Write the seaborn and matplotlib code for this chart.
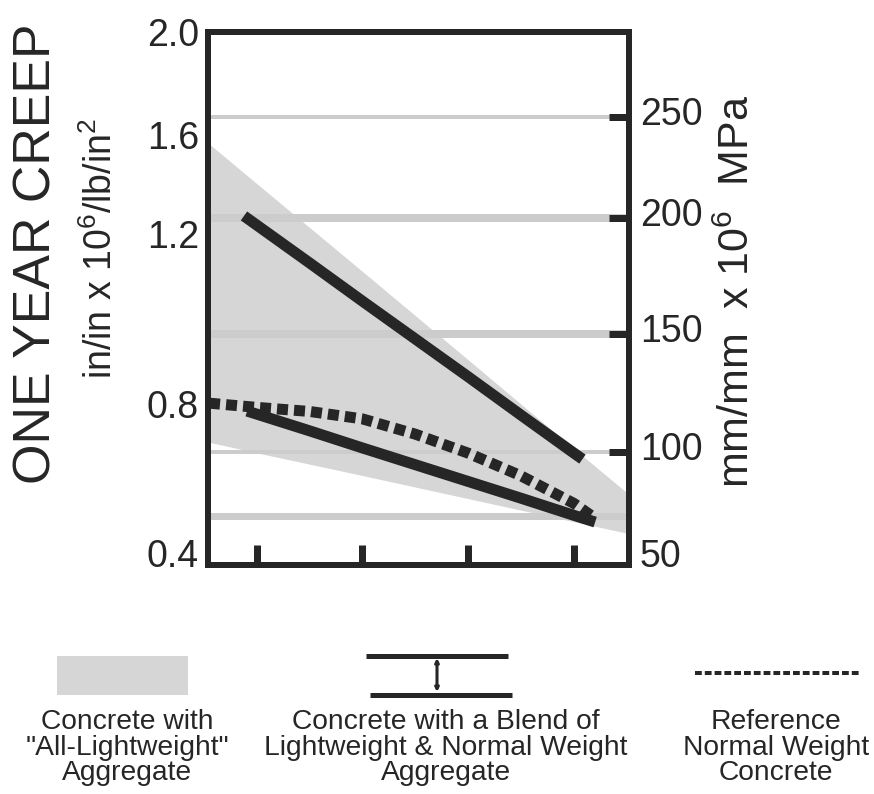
import numpy as np
import matplotlib
matplotlib.use("Agg")
import matplotlib.pyplot as plt
import matplotlib.transforms as mtransforms
from matplotlib import font_manager as fm
from matplotlib.patches import Rectangle
import seaborn as sns

# ---------------- data ----------------
x_ticks = [1, 2, 3, 4]                       # unlabelled bottom ticks
left_tick_vals = [0.4, 0.8, 1.2, 1.6, 2.0]
left_tick_labels = ["0.4", "0.8", "1.2", "1.6", "2.0"]
right_tick_vals = [100, 150, 200, 250]
right_tick_labels = ["100", "150", "200", "250"]
right_extra_val = [50]
right_extra_label = ["50"]

grid_right = [250, 200, 150, 100]            # gridlines in right-axis units
grid_left = [0.5]                            # gridline in left-axis units

band_x = [0.54, 1.0, 2.0, 3.0, 4.0, 4.52]
band_upper = [1.568, 1.404, 1.112, 0.904, 0.680, 0.557]
band_lower = [0.698, 0.669, 0.608, 0.546, 0.484, 0.452]

blend_upper_x = [0.88, 1.5, 2.0, 2.5, 3.0, 3.5, 4.0, 4.08]
blend_upper_y = [1.273, 1.132, 1.042, 0.953, 0.864, 0.770, 0.668, 0.652]
blend_lower_x = [0.91, 1.5, 2.0, 2.5, 3.0, 3.5, 4.0, 4.2]
blend_lower_y = [0.781, 0.728, 0.682, 0.637, 0.592, 0.547, 0.501, 0.483]
ref_x = [0.55, 1.0, 1.5, 2.0, 2.5, 3.0, 3.5, 4.0, 4.17]
ref_y = [0.802, 0.791, 0.780, 0.760, 0.719, 0.668, 0.607, 0.533, 0.499]

legend_labels = [
    ["Concrete with", "\"All-Lightweight\"", "Aggregate"],
    ["Concrete with a Blend of", "Lightweight & Normal Weight", "Aggregate"],
    ["Reference", "Normal Weight", "Concrete"],
]

# ---------------- layout (pixels of the 874x794 canvas) ----------------
W, H = 874, 794
AX_L, AX_R, AX_T, AX_B = 208, 629, 32, 565
LEFT_POS_PX = [553, 404, 234, 135, 32]        # where the left scale labels sit
RIGHT_POS_PX = [559, 452, 334, 218, 117]      # right scale 50..250
RIGHT_VALS_ALL = [50, 100, 150, 200, 250]
PX = 72 / 100                                 # points per pixel

INK = "#262626"
FILL = "#d6d6d6"
GRID = "#cccccc"

sns.set_theme(style="white")
names = {f.name for f in fm.fontManager.ttflist}
HAS_NARROW = "Liberation Sans Narrow" in names
BASE = "Liberation Sans"
NARROW = "Liberation Sans Narrow" if HAS_NARROW else BASE
TICK_SIZE = 32 if HAS_NARROW else 27
plt.rcParams["font.family"] = [BASE, "DejaVu Sans"]
plt.rcParams["mathtext.fontset"] = "custom"
plt.rcParams["mathtext.rm"] = BASE
plt.rcParams["mathtext.it"] = BASE + ":italic"
plt.rcParams["mathtext.bf"] = BASE + ":bold"
plt.rcParams["text.color"] = INK


def make_scale(vals, px):
    vals = np.asarray(vals, float)
    px = np.asarray(px, float)
    v_ext = np.r_[vals[0] - 10 * (vals[1] - vals[0]), vals, vals[-1] + 10 * (vals[-1] - vals[-2])]
    p_ext = np.r_[px[0] - 10 * (px[1] - px[0]), px, px[-1] + 10 * (px[-1] - px[-2])]

    def fwd(v):
        return -np.interp(v, v_ext, p_ext)

    def inv(u):
        return np.interp(-np.asarray(u, float), p_ext[::-1], v_ext[::-1])

    return fwd, inv


lf, li = make_scale(left_tick_vals, LEFT_POS_PX)
rf, ri = make_scale(RIGHT_VALS_ALL, RIGHT_POS_PX)

fig = plt.figure(figsize=(W / 100, H / 100), dpi=100)
fig.patch.set_facecolor("white")

# overlay for the hand-drawn legend below the plot
lax = fig.add_axes([0, 0, 1, 1], zorder=0)
lax.set_xlim(0, W)
lax.set_ylim(H, 0)
lax.axis("off")

ax = fig.add_axes([AX_L / W, 1 - AX_B / H, (AX_R - AX_L) / W, (AX_B - AX_T) / H], zorder=2)
ax.set_yscale("function", functions=(lf, li))
ax.set_xlim(0.54, 4.52)
ax.set_ylim(float(li(-AX_B)), float(li(-AX_T)))
ax.patch.set_alpha(0)

# band for all-lightweight aggregate concrete
ax.fill_between(band_x, band_lower, band_upper, color=FILL, lw=0, zorder=1)

# gridlines
grid_lw = [4, 8, 8, 4]
for v, w in zip(grid_right, grid_lw):
    ax.axhline(float(li(rf(v))), color=GRID, lw=w * PX, zorder=2)
for v in grid_left:
    ax.axhline(v, color=GRID, lw=7 * PX, zorder=2)

LW = 11 * PX
sns.lineplot(x=blend_upper_x, y=blend_upper_y, ax=ax, color=INK, linewidth=LW,
             solid_capstyle="butt", zorder=4)
sns.lineplot(x=blend_lower_x, y=blend_lower_y, ax=ax, color=INK, linewidth=LW,
             solid_capstyle="butt", zorder=4)
sns.lineplot(x=ref_x, y=ref_y, ax=ax, color=INK, linewidth=LW,
             linestyle=(0, (1.0, 0.55)), dash_capstyle="butt", zorder=4)

# spines / ticks
for s in ax.spines.values():
    s.set_visible(True)
    s.set_linewidth(6 * PX)
    s.set_color(INK)
    s.set_capstyle("projecting")
ax.set_xticks(x_ticks)
ax.tick_params(axis="x", bottom=True, direction="in", length=20 * PX, width=7 * PX,
               color=INK, labelbottom=False)
ax.set_yticks(left_tick_vals, labels=left_tick_labels)
ax.tick_params(axis="y", left=True, length=0, pad=9 * PX,
               labelsize=TICK_SIZE, labelcolor=INK)
for t in ax.get_yticklabels():
    t.set_fontfamily(NARROW)
ax.minorticks_off()

ax2 = ax.twinx()
ax2.set_yscale("function", functions=(rf, ri))
ax2.set_ylim(float(ri(-AX_B)), float(ri(-AX_T)))
for s in ax2.spines.values():
    s.set_visible(False)
ax2.set_yticks(right_tick_vals, labels=right_tick_labels)
ax2.set_yticks(right_extra_val, labels=right_extra_label, minor=True)
ax2.tick_params(axis="y", which="major", right=True, direction="in", length=20 * PX,
                width=7 * PX, color=INK, pad=11 * PX,
                labelsize=TICK_SIZE, labelcolor=INK)
ax2.tick_params(axis="y", which="minor", right=True, length=0, pad=11 * PX,
                labelsize=TICK_SIZE, labelcolor=INK)
shift = mtransforms.ScaledTranslation(0, 6 / 100, fig.dpi_scale_trans)
for t in ax2.get_yticklabels(which="both"):
    t.set_fontfamily(NARROW)
    t.set_transform(t.get_transform() + shift)

# axis titles
fig.text(37.5 / W, 1 - 254 / H, "ONE YEAR CREEP", rotation=90, ha="center", va="center",
         fontsize=37.4, color=INK)
fig.text(101 / W, 1 - 248.5 / H, r"in/in x 10$^{6}$/lb/in$^{2}$", rotation=90,
         ha="center", va="center", fontsize=27, color=INK)
fig.text(738 / W, 1 - 291.5 / H, r"mm/mm  x 10$^{6}$  MPa", rotation=90,
         ha="center", va="center", fontsize=31, color=INK)

# ---------------- legend ----------------
lax.add_patch(Rectangle((57, 656), 131, 39, color=FILL, lw=0))
lax.plot([366, 508], [655.5, 655.5], color=INK, lw=5 * PX, solid_capstyle="butt")
lax.plot([370, 512], [695, 695], color=INK, lw=5 * PX, solid_capstyle="butt")
lax.annotate("", xy=(437, 658), xytext=(437, 692),
             arrowprops=dict(arrowstyle="<|-|>", color=INK, lw=2.2, mutation_scale=5,
                             shrinkA=0, shrinkB=0))
lax.plot([695, 860], [673, 673], color=INK, lw=4 * PX, dashes=(1.7, 0.75),
         dash_capstyle="butt")

centers = [127.5, 446, 776]
baselines = [729, 755, 780]
for cx, lines in zip(centers, legend_labels):
    for by, txt in zip(baselines, lines):
        lax.text(cx, by, txt, ha="center", va="baseline", fontsize=20.3, color=INK)

fig.savefig("out.png", dpi=100, facecolor="white")
